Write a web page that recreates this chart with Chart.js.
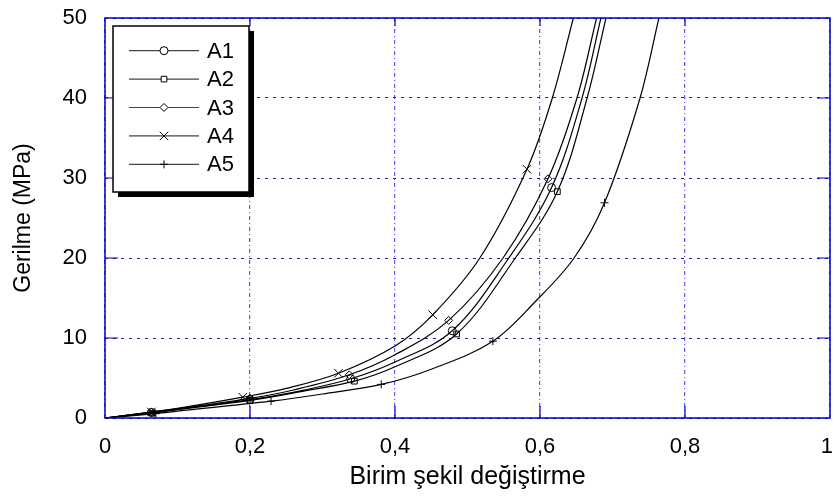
<!DOCTYPE html>
<html>
<head>
<meta charset="utf-8">
<script src="https://cdn.jsdelivr.net/npm/chart.js@4.4.1/dist/chart.umd.min.js"></script>
<style>
  html, body { margin: 0; padding: 0; background: #fff; }
  #wrap { width: 835px; height: 497px; }
</style>
</head>
<body>
<div id="wrap"><canvas id="chart"></canvas></div>
<script>
// seri adlari
const seriesNames = ['A1', 'A2', 'A3', 'A4', 'A5'];
const markerStyles = ['circle', 'rect', 'rectRot', 'crossRot', 'cross'];
const markerSizes = [4, 4, 4, 6, 4];

// birim sekil degistirme / gerilme (MPa)
const strainA1 = [0, 0.064, 0.1, 0.2, 0.27, 0.339, 0.4, 0.479, 0.557, 0.616, 0.658, 0.684];
const stressA1 = [0, 0.7, 1.1, 2.3, 3.4, 4.9, 7.0, 10.9, 20, 28.8, 40, 50];
const markA1 = [1, 3, 5, 7, 9];

const strainA2 = [0, 0.065, 0.1, 0.2, 0.27, 0.344, 0.4, 0.485, 0.566, 0.624, 0.665, 0.691];
const stressA2 = [0, 0.6, 1.05, 2.2, 3.3, 4.6, 6.4, 10.5, 20, 28.3, 40, 50];
const markA2 = [1, 3, 5, 7, 9];

const strainA3 = [0, 0.064, 0.1, 0.2, 0.26, 0.337, 0.4, 0.474, 0.549, 0.611, 0.651, 0.678];
const stressA3 = [0, 0.75, 1.15, 2.45, 3.5, 5.4, 7.9, 12.2, 20, 29.9, 40, 50];
const markA3 = [1, 3, 5, 7, 9];

const strainA4 = [0, 0.064, 0.1, 0.19, 0.25, 0.322, 0.4, 0.452, 0.517, 0.582, 0.617, 0.646];
const stressA4 = [0, 0.75, 1.2, 2.6, 3.7, 5.6, 9.0, 12.9, 20, 31.1, 40, 50];
const markA4 = [1, 3, 5, 7, 9];

const strainA5 = [0, 0.07, 0.1, 0.229, 0.3, 0.381, 0.45, 0.535, 0.593, 0.647, 0.689, 0.738, 0.764];
const stressA5 = [0, 0.55, 0.85, 2.1, 3.0, 4.2, 6.1, 9.6, 14.5, 20, 26.9, 40, 50];
const markA5 = [1, 3, 5, 7, 10];

// eksen etiketleri
const xTicks = [0, 0.2, 0.4, 0.6, 0.8, 1];
const yTicks = [0, 10, 20, 30, 40, 50];

const FONT = "'Liberation Sans', Arial, sans-serif";
const FRAME = '#0000cc';

function makeSet(i, xs, ys, marks) {
    return {
        label: seriesNames[i],
        data: xs.map((x, k) => ({ x: x, y: ys[k] })),
        showLine: true,
        borderColor: '#000',
        borderWidth: 1.2,
        tension: 0.35,
        pointStyle: markerStyles[i],
        pointRadius: xs.map((x, k) => marks.includes(k) ? markerSizes[i] : 0),
        pointBackgroundColor: 'rgba(255,255,255,0)',
        pointBorderColor: '#000',
        pointBorderWidth: 1
    };
}

// etiket tasmasi icin eklenen bosluklari sifirla
function fixScale(s, key, size) {
    s[key] = size;
    s.paddingTop = 0; s.paddingBottom = 0;
    s.paddingLeft = 0; s.paddingRight = 0;
}

// cerceve, ic tik cizgileri ve golgeli lejant
const framePlugin = {
    id: 'frame',
    afterDraw(chart) {
        const ctx = chart.ctx;
        const a = chart.chartArea;
        const sx = chart.scales.x, sy = chart.scales.y;
        ctx.save();
        ctx.strokeStyle = FRAME;
        ctx.lineWidth = 1.5;
        ctx.setLineDash([]);
        ctx.strokeRect(a.left, a.top, a.right - a.left, a.bottom - a.top);
        ctx.lineWidth = 1.2;
        ctx.beginPath();
        xTicks.slice(1, -1).forEach(v => {
            const px = sx.getPixelForValue(v);
            ctx.moveTo(px, a.bottom); ctx.lineTo(px, a.bottom - 12);
            ctx.moveTo(px, a.top); ctx.lineTo(px, a.top + 8);
        });
        yTicks.slice(1, -1).forEach(v => {
            const py = sy.getPixelForValue(v);
            ctx.moveTo(a.left, py); ctx.lineTo(a.left + 13, py);
            ctx.moveTo(a.right, py); ctx.lineTo(a.right - 13, py);
        });
        ctx.stroke();

        // lejant
        const bx = 113, by = 26, bw = 136, bh = 166;
        ctx.fillStyle = '#000';
        ctx.fillRect(bx + 5, by + 5, bw, bh);
        ctx.fillStyle = '#fff';
        ctx.fillRect(bx, by, bw, bh);
        ctx.strokeStyle = '#000';
        ctx.lineWidth = 1.5;
        ctx.strokeRect(bx, by, bw, bh);
        ctx.font = '22px ' + FONT;
        ctx.textBaseline = 'middle';
        chart.data.datasets.forEach((ds, i) => {
            const ry = 50.7 + i * 28.4;
            ctx.strokeStyle = '#444';
            ctx.lineWidth = 1.2;
            ctx.beginPath();
            ctx.moveTo(129, ry); ctx.lineTo(199, ry);
            ctx.stroke();
            ctx.strokeStyle = '#000';
            ctx.lineWidth = 1;
            ctx.fillStyle = '#fff';
            Chart.helpers.drawPoint(ctx, { pointStyle: ds.pointStyle, radius: markerSizes[i], rotation: 0, borderWidth: 1 }, 164, ry);
            ctx.fillStyle = '#000';
            ctx.fillText(ds.label, 207, ry + 1);
        });
        ctx.restore();
    }
};

new Chart(document.getElementById('chart'), {
    type: 'scatter',
    data: {
        datasets: [
            makeSet(0, strainA1, stressA1, markA1),
            makeSet(1, strainA2, stressA2, markA2),
            makeSet(2, strainA3, stressA3, markA3),
            makeSet(3, strainA4, stressA4, markA4),
            makeSet(4, strainA5, stressA5, markA5)
        ]
    },
    options: {
        responsive: true,
        maintainAspectRatio: false,
        animation: false,
        layout: { padding: { top: 18, right: 5, left: 0, bottom: 0 } },
        plugins: {
            legend: { display: false },
            tooltip: { enabled: false }
        },
        scales: {
            x: {
                type: 'linear',
                min: 0,
                max: 1,
                afterFit: s => fixScale(s, 'height', 79),
                afterBuildTicks: s => { s.ticks = xTicks.map(v => ({ value: v })); },
                ticks: {
                    color: '#000',
                    font: { family: FONT, size: 22 },
                    padding: 16,
                    maxRotation: 0,
                    // son etiket kenarda kesilmesin diye bosluk
                    callback: v => v === 1 ? '1 ' : String(+v.toFixed(1)).replace('.', ',')
                },
                grid: { color: '#5a5af0', lineWidth: 1.2, drawTicks: false },
                border: { display: false, dash: [4, 3, 1, 3] },
                title: {
                    display: true,
                    text: 'Birim şekil değiştirme',
                    color: '#000',
                    font: { family: FONT, size: 25 },
                    padding: { top: 0, bottom: 5 }
                }
            },
            y: {
                type: 'linear',
                min: 0,
                max: 50,
                afterFit: s => fixScale(s, 'width', 105),
                afterBuildTicks: s => { s.ticks = yTicks.map(v => ({ value: v })); },
                ticks: {
                    color: '#000',
                    font: { family: FONT, size: 22 },
                    padding: 18
                },
                grid: { color: '#1a1ab0', lineWidth: 1, drawTicks: false },
                border: { display: false, dash: [3, 5] },
                title: {
                    display: true,
                    text: 'Gerilme (MPa)',
                    color: '#000',
                    font: { family: FONT, size: 23 },
                    padding: { top: 10, bottom: 0 }
                }
            }
        }
    },
    plugins: [framePlugin]
});
</script>
</body>
</html>
